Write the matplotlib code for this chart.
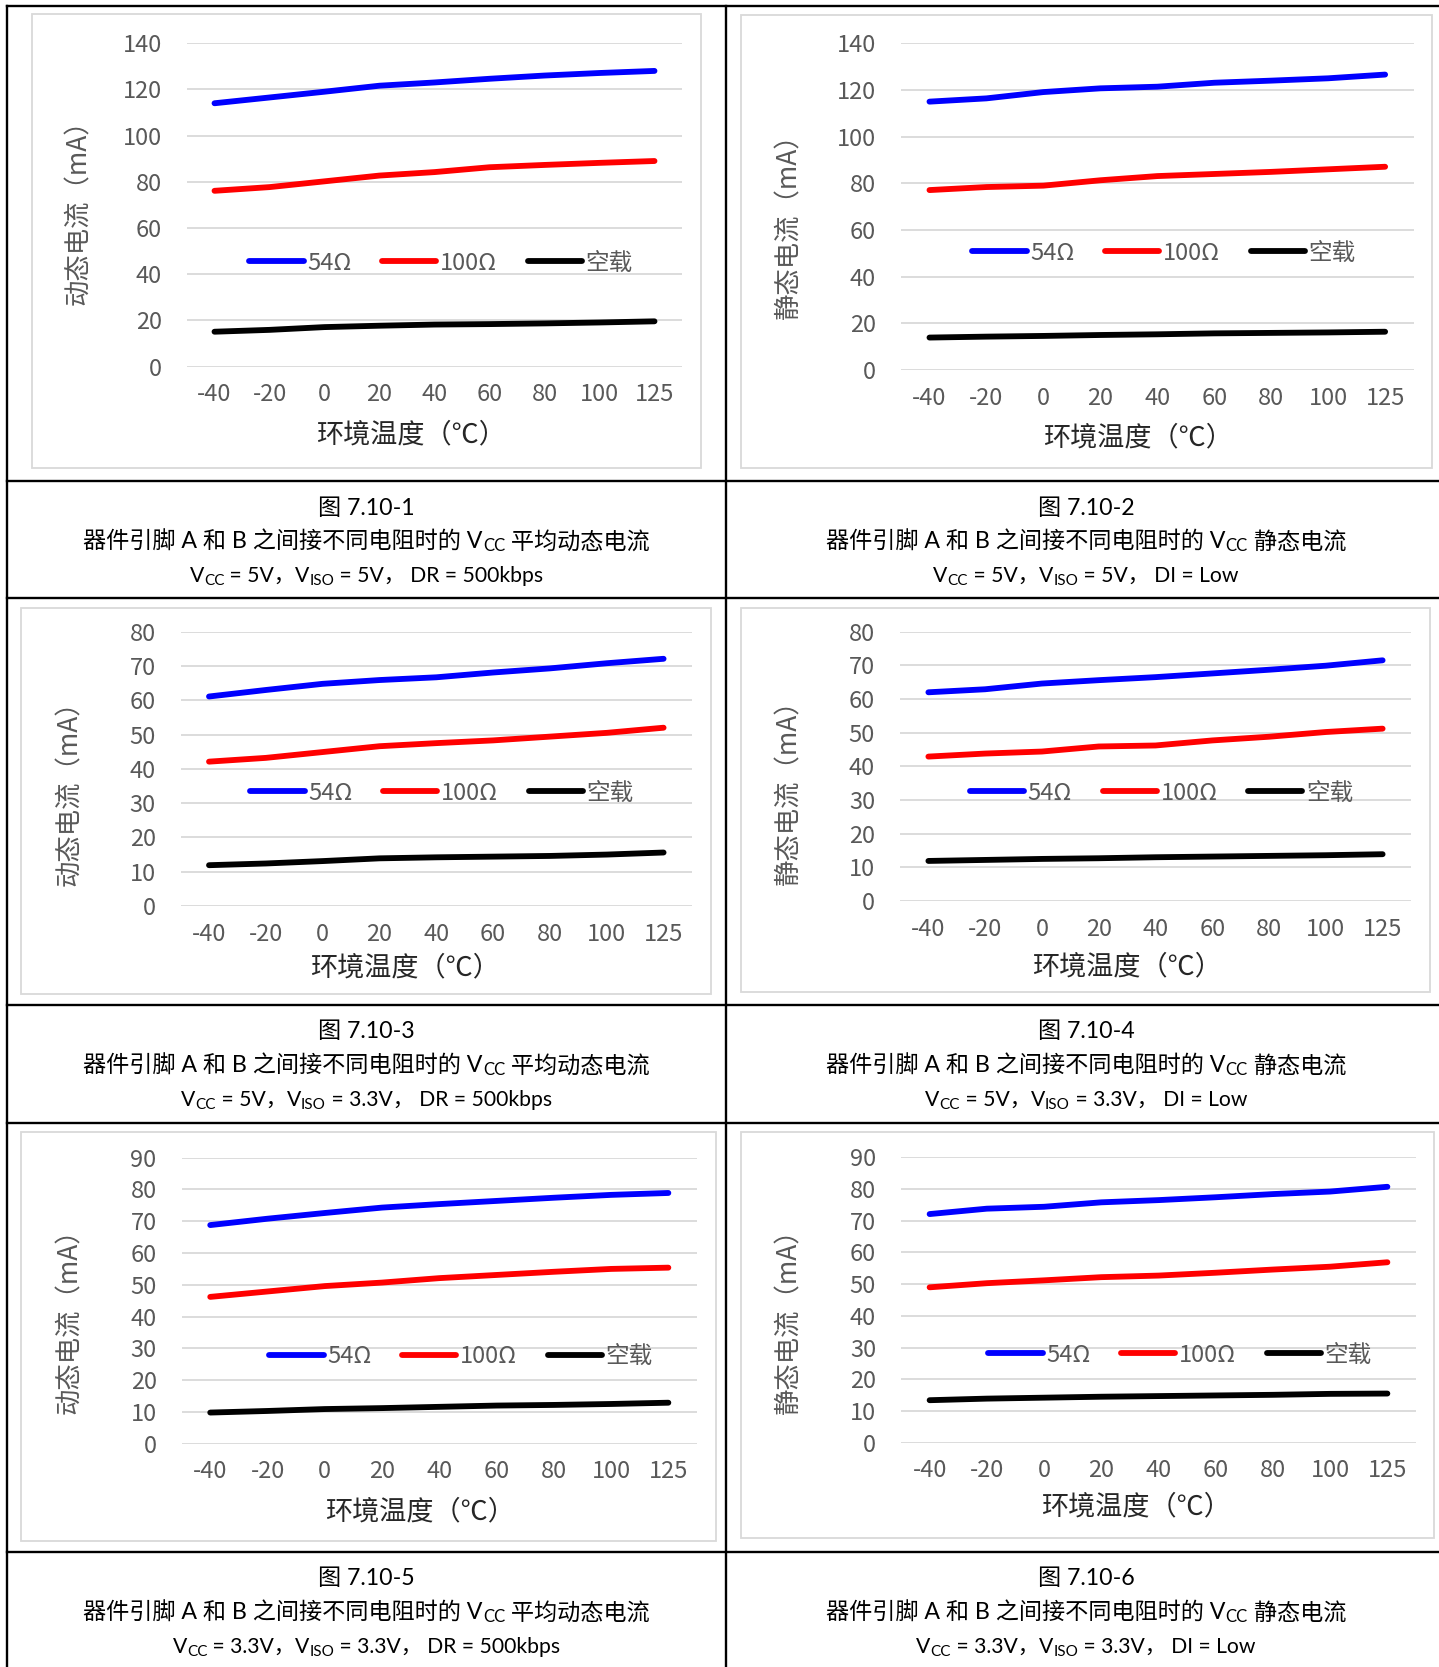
import matplotlib
matplotlib.use('Agg')
import matplotlib.pyplot as plt
from matplotlib.patches import Rectangle
from matplotlib.lines import Line2D

plt.rcParams['font.family'] = ['Noto Sans CJK SC', 'DejaVu Sans']

W, H = 1439, 1667
DPI = 100

# ---------------- data ----------------
temps = ['-40', '-20', '0', '20', '40', '60', '80', '100', '125']
series_names = ['54Ω', '100Ω', '空载']
series_colors = ['#0000FF', '#FF0000', '#000000']

c1_54 = [114.0, 116.5, 119.0, 121.6, 123.0, 124.6, 126.0, 127.1, 128.0]
c1_100 = [76.1, 77.7, 80.2, 82.7, 84.2, 86.3, 87.3, 88.2, 89.0]
c1_open = [15.1, 15.9, 17.1, 17.7, 18.2, 18.4, 18.7, 19.1, 19.6]

c2_54 = [115.0, 116.4, 119.1, 120.7, 121.4, 123.1, 124.0, 125.0, 126.6]
c2_100 = [77.1, 78.4, 79.0, 81.3, 83.1, 84.0, 84.9, 86.0, 87.1]
c2_open = [13.9, 14.3, 14.6, 15.0, 15.3, 15.7, 15.9, 16.1, 16.4]

c3_54 = [61.1, 63.0, 64.8, 65.9, 66.7, 68.1, 69.3, 70.8, 72.1]
c3_100 = [42.1, 43.2, 44.9, 46.6, 47.5, 48.3, 49.4, 50.5, 52.0]
c3_open = [11.9, 12.4, 13.1, 13.9, 14.2, 14.4, 14.6, 15.0, 15.6]

c4_54 = [62.0, 62.9, 64.6, 65.6, 66.5, 67.6, 68.7, 69.9, 71.5]
c4_100 = [42.9, 43.8, 44.4, 45.9, 46.2, 47.7, 48.8, 50.2, 51.2]
c4_open = [11.9, 12.2, 12.5, 12.7, 13.0, 13.2, 13.4, 13.6, 13.9]

c5_54 = [68.8, 70.8, 72.6, 74.3, 75.4, 76.4, 77.4, 78.3, 78.9]
c5_100 = [46.2, 47.9, 49.6, 50.7, 52.1, 53.1, 54.1, 55.0, 55.4]
c5_open = [9.8, 10.3, 10.9, 11.2, 11.6, 12.0, 12.2, 12.5, 12.9]

c6_54 = [72.1, 73.8, 74.4, 75.8, 76.5, 77.4, 78.4, 79.2, 80.7]
c6_100 = [49.0, 50.3, 51.2, 52.2, 52.7, 53.6, 54.6, 55.5, 56.9]
c6_open = [13.4, 13.9, 14.2, 14.5, 14.7, 14.9, 15.1, 15.4, 15.5]

ylabel_dyn = '动态电流（mA）'
ylabel_sta = '静态电流（mA）'
xlabel_text = '环境温度（℃）'

fig_numbers = ['图 7.10-1', '图 7.10-2', '图 7.10-3', '图 7.10-4', '图 7.10-5', '图 7.10-6']
cap_prefix = '器件引脚 A 和 B 之间接不同电阻时的 V'
cap_suffix_dyn = ' 平均动态电流'
cap_suffix_sta = ' 静态电流'
cond_vcc = ['5V', '5V', '5V', '5V', '3.3V', '3.3V']
cond_viso = ['5V', '5V', '3.3V', '3.3V', '3.3V', '3.3V']
cond_last = ['DR = 500kbps', 'DI = Low', 'DR = 500kbps', 'DI = Low', 'DR = 500kbps', 'DI = Low']

# ---------------- layout (pixels) ----------------
charts = [
    dict(data=(c1_54, c1_100, c1_open), ymax=140, step=20, ylab=ylabel_dyn,
         frame=(32, 14.5, 700.6, 467.7), ax=(187, 43.2, 682, 366.6),
         xl=(411, 435), yl=(79, 206), leg=(441, 263)),
    dict(data=(c2_54, c2_100, c2_open), ymax=140, step=20, ylab=ylabel_sta,
         frame=(740.6, 15, 1432, 468), ax=(901, 43.3, 1413.6, 370),
         xl=(1138, 438), yl=(789, 220), leg=(1164, 253)),
    dict(data=(c3_54, c3_100, c3_open), ymax=80, step=10, ylab=ylabel_dyn,
         frame=(21, 607.7, 711, 994), ax=(180.6, 631.7, 692, 906),
         xl=(405, 968), yl=(70, 787), leg=(442, 793)),
    dict(data=(c4_54, c4_100, c4_open), ymax=80, step=10, ylab=ylabel_sta,
         frame=(740.6, 607.7, 1430, 992), ax=(900, 631.7, 1411, 901),
         xl=(1127, 967), yl=(789, 786), leg=(1161.5, 793)),
    dict(data=(c5_54, c5_100, c5_open), ymax=90, step=10, ylab=ylabel_dyn,
         frame=(21, 1132, 715.5, 1541), ax=(181.6, 1157.7, 697, 1443.7),
         xl=(420, 1511.7), yl=(70, 1315), leg=(461, 1356.7)),
    dict(data=(c6_54, c6_100, c6_open), ymax=90, step=10, ylab=ylabel_sta,
         frame=(740.6, 1132, 1434, 1537.7), ax=(901, 1157.3, 1416, 1442.7),
         xl=(1136, 1506.7), yl=(789, 1315), leg=(1180, 1355)),
]

caption_rows = [(507, 540, 574), (1030, 1064, 1098), (1577, 1611, 1645)]
caption_cols = [366.5, 1086]

fig = plt.figure(figsize=(W / DPI, H / DPI), dpi=DPI)
fig.patch.set_facecolor('white')


def fx(x):
    return x / W


def fy(y):
    return 1 - y / H


TICK_COLOR = '#595959'
GRID_COLOR = '#D9D9D9'

for ch in charts:
    x0, y0, x1, y1 = ch['frame']
    fig.add_artist(Rectangle((fx(x0), fy(y1)), fx(x1) - fx(x0), fy(y0) - fy(y1),
                             transform=fig.transFigure, facecolor='none',
                             edgecolor=GRID_COLOR, linewidth=1.3, zorder=-5))
    ax0, at, ax1, ab = ch['ax']
    ax = fig.add_axes([fx(ax0), fy(ab), fx(ax1) - fx(ax0), fy(at) - fy(ab)])
    ax.set_facecolor('none')
    xs = list(range(len(temps)))
    handles = []
    for vals, name, col in zip(ch['data'], series_names, series_colors):
        ln, = ax.plot(xs, vals, color=col, lw=4.2, solid_capstyle='round',
                      solid_joinstyle='round', label=name, zorder=3)
        handles.append(ln)
    ax.set_xlim(-0.5, len(temps) - 0.5)
    ax.set_ylim(0, ch['ymax'])
    ax.set_yticks(list(range(0, ch['ymax'] + 1, ch['step'])))
    ax.set_xticks(xs)
    ax.set_xticklabels(temps)
    for s in ax.spines.values():
        s.set_visible(False)
    ax.grid(axis='y', color=GRID_COLOR, lw=1.3, zorder=0)
    ax.set_axisbelow(True)
    ax.tick_params(axis='both', length=0, labelsize=17, labelcolor=TICK_COLOR)
    ax.tick_params(axis='y', pad=18)
    ax.tick_params(axis='x', pad=12)
    for lab in ax.get_xticklabels() + ax.get_yticklabels():
        lab.set_fontweight('light')
    fig.text(fx(ch['xl'][0]), fy(ch['xl'][1]), xlabel_text, ha='center', va='center',
             fontsize=19.5, color='#262626')
    fig.text(fx(ch['yl'][0]), fy(ch['yl'][1]), ch['ylab'], ha='center', va='center',
             rotation=90, fontsize=19, color=TICK_COLOR)
    leg = ax.legend(handles=handles, loc='center', ncol=3, frameon=False,
                    bbox_to_anchor=(fx(ch['leg'][0]), fy(ch['leg'][1])),
                    bbox_transform=fig.transFigure, fontsize=17,
                    handlelength=2.3, handletextpad=0.15, columnspacing=1.3,
                    borderpad=0, borderaxespad=0)
    for t in leg.get_texts():
        t.set_color(TICK_COLOR)

# ---------------- table lines ----------------
LINE_W = 1.7
hlines = [6.4, 481.5, 598.4, 1005.4, 1123.4, 1551.7]
for yy in hlines:
    fig.add_artist(Line2D([fx(7), 1.0], [fy(yy), fy(yy)], transform=fig.transFigure,
                          color='black', lw=LINE_W))
for xx in [7, 726]:
    fig.add_artist(Line2D([fx(xx), fx(xx)], [fy(6.4), 0.0], transform=fig.transFigure,
                          color='black', lw=LINE_W))

# ---------------- captions ----------------
renderer = fig.canvas.get_renderer()
CAP_FONT = ['Lato', 'Noto Sans CJK SC']
CAP_SIZE = 16.7


def rich_line(xc, yc, segs, size=CAP_SIZE):
    # segs: list of (text, size_factor, dy_px)
    arts = []
    widths = []
    for txt, sf, dy in segs:
        t = fig.text(0, 0, txt, fontsize=size * sf, family=CAP_FONT,
                     color='black', ha='left', va='baseline')
        w = t.get_window_extent(renderer).width
        arts.append((t, dy))
        widths.append(w)
    total = sum(widths)
    x = xc - total / 2
    base = yc + size * DPI / 72 * 0.36
    for (t, dy), w in zip(arts, widths):
        t.set_position((fx(x), fy(base + dy)))
        x += w


for i in range(6):
    r, c = divmod(i, 2)
    xc = caption_cols[c]
    y1, y2, y3 = caption_rows[r]
    rich_line(xc, y1, [(fig_numbers[i], 1.0, 0)])
    suffix = cap_suffix_dyn if c == 0 else cap_suffix_sta
    rich_line(xc, y2, [(cap_prefix, 1.0, 0), ('CC', 0.72, 3), (suffix, 1.0, 0)])
    rich_line(xc, y3, [('V', 1.0, 0), ('CC', 0.72, 3),
                       (' = ' + cond_vcc[i] + '，', 1.0, 0),
                       ('V', 1.0, 0), ('ISO', 0.72, 3),
                       (' = ' + cond_viso[i] + '， ' + cond_last[i], 1.0, 0)],
              size=15.2)

fig.savefig('out.png', dpi=DPI, facecolor='white')
